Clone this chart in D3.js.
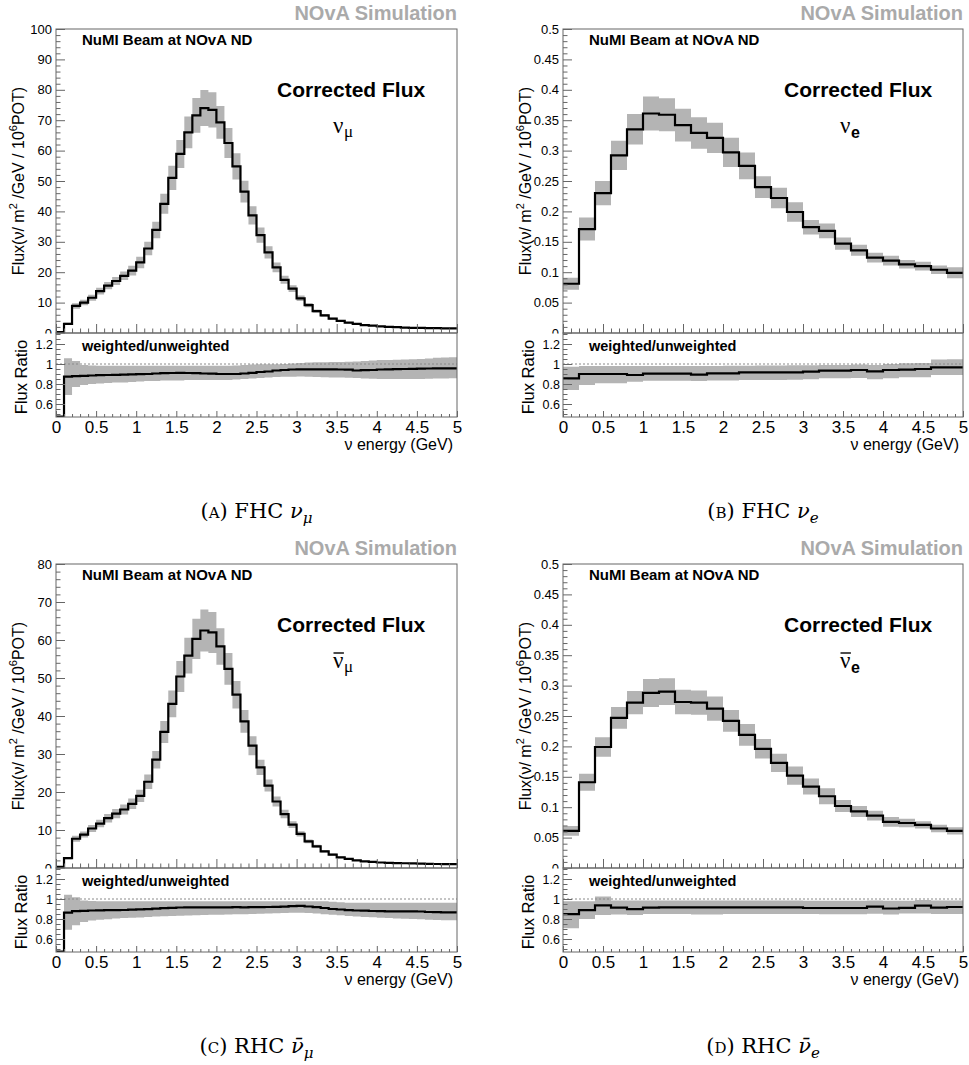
<!DOCTYPE html>
<html>
<head>
<meta charset="utf-8">
<script src="https://cdn.jsdelivr.net/npm/d3@7"></script>
<style>
  body { margin: 0; background: #fff; }
  svg { display: block; font-family: "Liberation Sans", Arial, Helvetica, sans-serif; }
</style>
</head>
<body>
<svg id="chart" width="969" height="1065"></svg>
<script>
// ---- data (flux per 0.1 / 0.2 GeV bin, 0..5 GeV) ----
const energyTicks = [0, 0.5, 1, 1.5, 2, 2.5, 3, 3.5, 4, 4.5, 5];
const ratioTicks = [0.6, 0.8, 1, 1.2];
const numuTicks = [0, 10, 20, 30, 40, 50, 60, 70, 80, 90, 100];
const numubarTicks = [0, 10, 20, 30, 40, 50, 60, 70, 80];
const nueTicks = [0, 0.05, 0.1, 0.15, 0.2, 0.25, 0.3, 0.35, 0.4, 0.45, 0.5];

// (a) FHC numu, 50 bins of 0.1 GeV
const fhcNumuFlux = [0.3, 3.0, 8.9, 10.0, 11.6, 13.8, 15.6, 17.1, 18.8, 20.5,
  23.2, 27.8, 33.9, 42.5, 51.0, 58.9, 66.0, 71.6, 74.0, 73.4,
  69.3, 62.5, 54.8, 46.5, 38.7, 32.2, 26.5, 21.6, 17.5, 14.6,
  11.4, 9.2, 7.2, 5.8, 4.7, 4.0, 3.4, 3.0, 2.6, 2.4,
  2.2, 2.0, 1.9, 1.8, 1.7, 1.7, 1.6, 1.6, 1.5, 1.5];
const fhcNumuErr = [0.05, 0.4, 0.9, 0.9, 1.0, 1.1, 1.2, 1.3, 1.4, 1.6,
  1.9, 2.2, 2.7, 3.3, 4.0, 4.6, 5.2, 5.7, 5.9, 5.8,
  5.4, 4.9, 4.3, 3.6, 3.0, 2.5, 2.0, 1.6, 1.3, 1.1,
  0.9, 0.7, 0.55, 0.45, 0.35, 0.3, 0.25, 0.22, 0.2, 0.18,
  0.17, 0.15, 0.15, 0.14, 0.13, 0.13, 0.12, 0.12, 0.12, 0.12];
const fhcNumuRatio = [0.45, 0.873, 0.878, 0.882, 0.885, 0.888, 0.89, 0.892, 0.894, 0.896,
  0.898, 0.9, 0.905, 0.908, 0.91, 0.912, 0.91, 0.908, 0.905, 0.903,
  0.9, 0.9, 0.9, 0.905, 0.912, 0.92, 0.925, 0.935, 0.94, 0.945,
  0.947, 0.947, 0.947, 0.946, 0.946, 0.945, 0.944, 0.935, 0.938, 0.94,
  0.945, 0.947, 0.948, 0.95, 0.952, 0.953, 0.955, 0.956, 0.957, 0.957];
const fhcNumuRatioLo = [0.45, 0.69, 0.77, 0.79, 0.8, 0.805, 0.81, 0.815, 0.815, 0.82,
  0.825, 0.83, 0.83, 0.835, 0.835, 0.835, 0.84, 0.84, 0.84, 0.84,
  0.84, 0.84, 0.845, 0.85, 0.855, 0.86, 0.865, 0.87, 0.872, 0.873,
  0.874, 0.873, 0.87, 0.868, 0.866, 0.864, 0.862, 0.86, 0.855, 0.852,
  0.85, 0.85, 0.85, 0.85, 0.85, 0.85, 0.852, 0.855, 0.856, 0.857];
const fhcNumuRatioHi = [0.45, 1.057, 1.03, 0.99, 0.985, 0.983, 0.983, 0.983, 0.983, 0.983,
  0.983, 0.983, 0.983, 0.983, 0.983, 0.983, 0.983, 0.983, 0.983, 0.983,
  0.983, 0.983, 0.985, 0.99, 0.995, 0.997, 0.997, 0.998, 1.0, 1.005,
  1.01, 1.015, 1.017, 1.018, 1.02, 1.02, 1.022, 1.025, 1.03, 1.035,
  1.04, 1.04, 1.042, 1.045, 1.047, 1.05, 1.055, 1.062, 1.065, 1.067];

// (b) FHC nue, 25 bins of 0.2 GeV
const fhcNueFlux = [0.081, 0.171, 0.23, 0.292, 0.335, 0.361, 0.359, 0.342, 0.329, 0.321,
  0.297, 0.275, 0.24, 0.222, 0.199, 0.174, 0.168, 0.147, 0.136, 0.124,
  0.119, 0.113, 0.11, 0.104, 0.099];
const fhcNueErr = [0.01, 0.019, 0.02, 0.024, 0.025, 0.028, 0.027, 0.027, 0.026, 0.025,
  0.024, 0.022, 0.018, 0.017, 0.016, 0.012, 0.012, 0.01, 0.009, 0.008,
  0.008, 0.007, 0.007, 0.007, 0.009];
const fhcNueRatio = [0.857, 0.9, 0.9, 0.9, 0.89, 0.903, 0.903, 0.903, 0.893, 0.907,
  0.907, 0.917, 0.917, 0.917, 0.917, 0.923, 0.933, 0.933, 0.94, 0.927,
  0.94, 0.943, 0.95, 0.967, 0.967];
const fhcNueRatioLo = [0.74, 0.79, 0.807, 0.807, 0.823, 0.833, 0.833, 0.833, 0.83, 0.835,
  0.835, 0.84, 0.84, 0.84, 0.843, 0.847, 0.857, 0.857, 0.86, 0.848,
  0.858, 0.867, 0.867, 0.89, 0.89];
const fhcNueRatioHi = [0.973, 0.98, 0.98, 0.98, 0.98, 0.98, 0.98, 0.98, 0.98, 0.98,
  0.982, 0.983, 0.985, 0.985, 0.987, 0.988, 0.99, 0.99, 0.995, 0.99,
  1.0, 1.007, 1.01, 1.045, 1.047];

// (c) RHC numubar, 50 bins of 0.1 GeV
const rhcNumubarFlux = [0.3, 2.6, 7.7, 8.8, 10.4, 11.7, 13.1, 14.3, 15.4, 16.9,
  19.0, 22.7, 28.5, 35.8, 43.2, 50.4, 55.9, 60.3, 62.5, 62.0,
  58.3, 52.4, 45.6, 38.6, 32.2, 26.5, 21.7, 17.5, 14.2, 11.4,
  9.0, 7.0, 5.7, 4.4, 3.5, 2.8, 2.4, 2.0, 1.75, 1.6,
  1.45, 1.35, 1.3, 1.25, 1.2, 1.15, 1.1, 1.05, 1.0, 1.0];
const rhcNumubarErr = [0.05, 0.3, 0.8, 0.8, 0.9, 1.0, 1.1, 1.2, 1.3, 1.4,
  1.6, 1.9, 2.3, 2.9, 3.5, 4.1, 4.7, 5.3, 5.5, 5.4,
  4.8, 4.2, 3.6, 3.0, 2.5, 2.0, 1.6, 1.3, 1.1, 0.9,
  0.7, 0.5, 0.4, 0.35, 0.3, 0.22, 0.2, 0.16, 0.14, 0.13,
  0.1, 0.1, 0.1, 0.1, 0.1, 0.1, 0.1, 0.1, 0.1, 0.1];
const rhcNumubarRatio = [0.45, 0.863, 0.878, 0.882, 0.885, 0.887, 0.888, 0.889, 0.89, 0.893,
  0.897, 0.899, 0.903, 0.908, 0.912, 0.915, 0.917, 0.917, 0.916, 0.917,
  0.917, 0.917, 0.918, 0.917, 0.918, 0.919, 0.92, 0.922, 0.923, 0.928,
  0.932, 0.925, 0.918, 0.91, 0.9, 0.895, 0.888, 0.885, 0.883, 0.88,
  0.878, 0.877, 0.877, 0.876, 0.877, 0.875, 0.87, 0.868, 0.867, 0.867];
const rhcNumubarRatioLo = [0.45, 0.693, 0.737, 0.77, 0.785, 0.793, 0.797, 0.805, 0.81, 0.812,
  0.815, 0.82, 0.825, 0.827, 0.83, 0.832, 0.835, 0.838, 0.84, 0.843,
  0.843, 0.845, 0.847, 0.848, 0.85, 0.852, 0.855, 0.858, 0.86, 0.862,
  0.863, 0.86, 0.855, 0.848, 0.842, 0.837, 0.83, 0.825, 0.82, 0.817,
  0.813, 0.81, 0.805, 0.802, 0.8, 0.797, 0.793, 0.79, 0.788, 0.787];
const rhcNumubarRatioHi = [0.45, 1.043, 1.017, 0.985, 0.98, 0.977, 0.977, 0.977, 0.977, 0.977,
  0.977, 0.977, 0.977, 0.977, 0.977, 0.977, 0.977, 0.977, 0.977, 0.977,
  0.977, 0.977, 0.977, 0.977, 0.977, 0.977, 0.977, 0.977, 0.977, 0.977,
  0.977, 0.977, 0.977, 0.977, 0.972, 0.968, 0.963, 0.963, 0.963, 0.963,
  0.963, 0.963, 0.963, 0.963, 0.963, 0.963, 0.963, 0.963, 0.963, 0.963];

// (d) RHC nuebar, 25 bins of 0.2 GeV
const rhcNuebarFlux = [0.061, 0.141, 0.199, 0.247, 0.272, 0.288, 0.29, 0.273, 0.272, 0.262,
  0.242, 0.219, 0.196, 0.173, 0.152, 0.134, 0.118, 0.102, 0.093, 0.086,
  0.076, 0.074, 0.071, 0.065, 0.061];
const rhcNuebarErr = [0.008, 0.014, 0.016, 0.018, 0.019, 0.023, 0.022, 0.02, 0.02, 0.02,
  0.018, 0.018, 0.016, 0.015, 0.015, 0.013, 0.013, 0.01, 0.009, 0.008,
  0.008, 0.007, 0.006, 0.006, 0.006];
const rhcNuebarRatio = [0.848, 0.889, 0.937, 0.914, 0.898, 0.914, 0.917, 0.917, 0.917, 0.917,
  0.917, 0.917, 0.917, 0.917, 0.917, 0.91, 0.91, 0.91, 0.91, 0.924,
  0.905, 0.912, 0.933, 0.913, 0.92];
const rhcNuebarRatioLo = [0.708, 0.8, 0.84, 0.845, 0.84, 0.85, 0.85, 0.85, 0.845, 0.845,
  0.85, 0.85, 0.85, 0.85, 0.85, 0.85, 0.848, 0.848, 0.848, 0.852,
  0.845, 0.855, 0.855, 0.85, 0.85];
const rhcNuebarRatioHi = [0.978, 0.978, 1.025, 0.985, 0.985, 0.985, 0.985, 0.985, 0.985, 0.985,
  0.985, 0.985, 0.985, 0.985, 0.985, 0.983, 0.983, 0.983, 0.983, 0.985,
  0.983, 0.983, 0.99, 0.985, 0.985];

// ---- layout ----
const svg = d3.select('#chart');
const bandColor = '#b4b4b4';
const frameColor = '#666';
const ratioDomain = [0.47, 1.31];
const serif = '"Liberation Serif", "Times New Roman", serif';

const panels = [
  { id: 'a', left: 56, right: 457, top: 29, mainBottom: 333, ratioBottom: 417, padX0: 0, padX1: 484,
    flux: fhcNumuFlux, err: fhcNumuErr, ratio: fhcNumuRatio, lo: fhcNumuRatioLo, hi: fhcNumuRatioHi,
    binWidth: 0.1, yTicks: numuTicks, yMinor: 2, beam: 'FHC', bar: false, flavour: 'μ' },
  { id: 'b', left: 563, right: 963, top: 29, mainBottom: 333, ratioBottom: 417, padX0: 484, padX1: 969,
    flux: fhcNueFlux, err: fhcNueErr, ratio: fhcNueRatio, lo: fhcNueRatioLo, hi: fhcNueRatioHi,
    binWidth: 0.2, yTicks: nueTicks, yMinor: 0.01, beam: 'FHC', bar: false, flavour: 'e' },
  { id: 'c', left: 56, right: 457, top: 564, mainBottom: 868, ratioBottom: 952, padX0: 0, padX1: 484,
    flux: rhcNumubarFlux, err: rhcNumubarErr, ratio: rhcNumubarRatio, lo: rhcNumubarRatioLo, hi: rhcNumubarRatioHi,
    binWidth: 0.1, yTicks: numubarTicks, yMinor: 2, beam: 'RHC', bar: true, flavour: 'μ' },
  { id: 'd', left: 563, right: 963, top: 564, mainBottom: 868, ratioBottom: 952, padX0: 484, padX1: 969,
    flux: rhcNuebarFlux, err: rhcNuebarErr, ratio: rhcNuebarRatio, lo: rhcNuebarRatioLo, hi: rhcNuebarRatioHi,
    binWidth: 0.2, yTicks: nueTicks, yMinor: 0.01, beam: 'RHC', bar: true, flavour: 'e' }
];

const fmt = d => String(+d.toFixed(2));

function styleAxis(g, fontSize) {
  g.select('.domain').remove();
  g.selectAll('line').attr('stroke', frameColor);
  g.selectAll('text').attr('fill', '#000').style('font-size', fontSize + 'px')
    .style('font-family', '"Liberation Sans", Arial, sans-serif');
}

function minorValues(domain, step, majors) {
  const out = [];
  for (let v = domain[0]; v <= domain[1] + 1e-9; v += step) {
    const r = Math.round(v / step) * step;
    if (!majors.some(m => Math.abs(m - r) < step / 10)) out.push(r);
  }
  return out;
}

// histogram outline: two points per bin
function stepPoints(values, bw, clampMin) {
  const pts = [];
  values.forEach((v, i) => {
    const yv = clampMin === undefined ? v : Math.max(v, clampMin);
    pts.push([i * bw, yv], [(i + 1) * bw, yv]);
  });
  return pts;
}

// band outline: [x, lo, hi] twice per bin
function bandPoints(lo, hi, bw) {
  const pts = [];
  lo.forEach((l, i) => {
    pts.push([i * bw, l, hi[i]], [(i + 1) * bw, l, hi[i]]);
  });
  return pts;
}

function drawPanel(p) {
  const g = svg.append('g').attr('class', 'panel-' + p.id);
  const yMax = p.yTicks[p.yTicks.length - 1];
  const x = d3.scaleLinear().domain([0, 5]).range([p.left, p.right]);
  const y = d3.scaleLinear().domain([0, yMax]).range([p.mainBottom, p.top]);
  const yr = d3.scaleLinear().domain(ratioDomain).range([p.ratioBottom, p.mainBottom]);
  const w = p.right - p.left;

  // clip paths
  g.append('clipPath').attr('id', 'clip-main-' + p.id)
    .append('rect').attr('x', p.left).attr('y', p.top).attr('width', w).attr('height', p.mainBottom - p.top);
  g.append('clipPath').attr('id', 'clip-ratio-' + p.id)
    .append('rect').attr('x', p.left).attr('y', p.mainBottom).attr('width', w).attr('height', p.ratioBottom - p.mainBottom);
  g.append('clipPath').attr('id', 'clip-mainpad-' + p.id)
    .append('rect').attr('x', p.padX0).attr('y', p.top - 12).attr('width', p.padX1 - p.padX0)
    .attr('height', p.mainBottom - p.top + 12.5);

  // ---------- main pad ----------
  const main = g.append('g').attr('clip-path', `url(#clip-main-${p.id})`);
  const bandMain = d3.area().x(d => x(d[0])).y0(d => y(d[1])).y1(d => y(d[2]));
  main.append('path')
    .attr('d', bandMain(bandPoints(p.flux.map((v, i) => v - p.err[i]), p.flux.map((v, i) => v + p.err[i]), p.binWidth)))
    .attr('fill', bandColor);

  const lineMain = d3.line().x(d => x(d[0])).y(d => y(d[1]));
  main.append('path')
    .attr('d', lineMain(stepPoints(p.flux, p.binWidth)))
    .attr('fill', 'none').attr('stroke', '#000').attr('stroke-width', 2.2);

  // main axes (labels cut off at the pad edge like the ratio pad does)
  const axesMain = g.append('g').attr('clip-path', `url(#clip-mainpad-${p.id})`);
  const yAx = axesMain.append('g').attr('transform', `translate(${p.left},0)`)
    .call(d3.axisLeft(y).tickValues(p.yTicks).tickSizeInner(-9).tickSizeOuter(0).tickPadding(4).tickFormat(fmt));
  styleAxis(yAx, 13);
  const yAxMin = axesMain.append('g').attr('transform', `translate(${p.left},0)`)
    .call(d3.axisLeft(y).tickValues(minorValues([0, yMax], p.yMinor, p.yTicks)).tickSize(-4.5).tickFormat(''));
  styleAxis(yAxMin, 13);
  const xAx = axesMain.append('g').attr('transform', `translate(0,${p.mainBottom})`)
    .call(d3.axisBottom(x).tickValues(energyTicks).tickSize(-9).tickFormat(''));
  styleAxis(xAx, 13);
  const xAxMin = axesMain.append('g').attr('transform', `translate(0,${p.mainBottom})`)
    .call(d3.axisBottom(x).tickValues(minorValues([0, 5], 0.1, energyTicks)).tickSize(-4.5).tickFormat(''));
  styleAxis(xAxMin, 13);

  g.append('rect').attr('x', p.left).attr('y', p.top).attr('width', w).attr('height', p.mainBottom - p.top)
    .attr('fill', 'none').attr('stroke', frameColor).attr('stroke-width', 1);

  // main texts
  g.append('text').attr('x', p.right).attr('y', p.top - 9).attr('text-anchor', 'end')
    .attr('font-weight', 'bold').attr('font-size', 20).attr('fill', '#aaaaaa').text('NOvA Simulation');
  g.append('text').attr('x', p.left + 26).attr('y', p.top + 16)
    .attr('font-weight', 'bold').attr('font-size', 15).text('NuMI Beam at NOvA ND');
  g.append('text').attr('x', p.left + 221).attr('y', p.top + 68)
    .attr('font-weight', 'bold').attr('font-size', 21).text('Corrected Flux');

  // neutrino symbol, with an overline for antineutrinos
  const nuX = p.left + 277;
  const nuY = p.top + 104;
  const nu = g.append('text').attr('x', nuX).attr('y', nuY)
    .style('font-family', serif).attr('font-size', 23).text('ν');
  const nuW = nu.node().getComputedTextLength();
  if (p.bar) {
    g.append('line').attr('x1', nuX + 0.5).attr('x2', nuX + nuW + 0.5)
      .attr('y1', nuY - 15).attr('y2', nuY - 15)
      .attr('stroke', '#000').attr('stroke-width', 1.4);
  }
  if (p.flavour === 'e') {
    g.append('text').attr('x', nuX + nuW + 0.5).attr('y', nuY + 5)
      .attr('font-size', 16).attr('font-weight', 'bold').text('e');
  } else {
    g.append('text').attr('x', nuX + nuW + 0.5).attr('y', nuY + 4)
      .attr('font-size', 17).style('font-family', serif).text('μ');
  }

  const yTitle = g.append('text')
    .attr('transform', `translate(${p.left - 32},${(p.top + p.mainBottom) / 2}) rotate(-90)`)
    .attr('text-anchor', 'middle').attr('font-size', 16);
  yTitle.append('tspan').text('Flux(ν/ m');
  yTitle.append('tspan').attr('dy', -7).attr('font-size', 11).text('2');
  yTitle.append('tspan').attr('dy', 7).text(' /GeV / 10');
  yTitle.append('tspan').attr('dy', -7).attr('font-size', 11).text('6');
  yTitle.append('tspan').attr('dy', 7).text('POT)');

  // ---------- ratio pad ----------
  const rat = g.append('g').attr('clip-path', `url(#clip-ratio-${p.id})`);
  const bandRat = d3.area().x(d => x(d[0])).y0(d => yr(d[1])).y1(d => yr(d[2]));
  rat.append('path')
    .attr('d', bandRat(bandPoints(p.lo, p.hi, p.binWidth)))
    .attr('fill', bandColor);

  rat.append('line')
    .attr('x1', p.left).attr('x2', p.right).attr('y1', yr(1)).attr('y2', yr(1))
    .attr('stroke', '#8a8a8a').attr('stroke-width', 1).attr('stroke-dasharray', '2,2');

  const lineRat = d3.line().x(d => x(d[0])).y(d => yr(d[1]));
  rat.append('path')
    .attr('d', lineRat(stepPoints(p.ratio, p.binWidth, ratioDomain[0] + 0.005)))
    .attr('fill', 'none').attr('stroke', '#000').attr('stroke-width', 2.2);

  const ryAx = g.append('g').attr('transform', `translate(${p.left},0)`)
    .call(d3.axisLeft(yr).tickValues(ratioTicks).tickSizeInner(-9).tickSizeOuter(0).tickPadding(3).tickFormat(fmt));
  styleAxis(ryAx, 12.5);
  const ryAxMin = g.append('g').attr('transform', `translate(${p.left},0)`)
    .call(d3.axisLeft(yr).tickValues(minorValues([0.5, 1.3], 0.05, ratioTicks)).tickSize(-4.5).tickFormat(''));
  styleAxis(ryAxMin, 12.5);
  const rxAx = g.append('g').attr('transform', `translate(0,${p.ratioBottom})`)
    .call(d3.axisBottom(x).tickValues(energyTicks).tickSizeInner(-6).tickSizeOuter(0).tickPadding(4).tickFormat(fmt));
  styleAxis(rxAx, 17);
  const rxAxMin = g.append('g').attr('transform', `translate(0,${p.ratioBottom})`)
    .call(d3.axisBottom(x).tickValues(minorValues([0, 5], 0.1, energyTicks)).tickSize(-3).tickFormat(''));
  styleAxis(rxAxMin, 17);

  g.append('rect').attr('x', p.left).attr('y', p.mainBottom).attr('width', w).attr('height', p.ratioBottom - p.mainBottom)
    .attr('fill', 'none').attr('stroke', frameColor).attr('stroke-width', 1);

  g.append('text').attr('x', p.left + 26).attr('y', p.mainBottom + 18)
    .attr('font-weight', 'bold').attr('font-size', 14.5).text('weighted/unweighted');
  g.append('text')
    .attr('transform', `translate(${p.left - 29},${(p.mainBottom + p.ratioBottom) / 2 + 2}) rotate(-90)`)
    .attr('text-anchor', 'middle').attr('font-size', 16.5).text('Flux Ratio');
  g.append('text').attr('x', p.right - 4).attr('y', p.ratioBottom + 33)
    .attr('text-anchor', 'end').attr('font-size', 16).text('ν energy (GeV)');

  // caption
  const cap = g.append('text').attr('x', (p.left + p.right) / 2).attr('y', p.ratioBottom + 101)
    .attr('text-anchor', 'middle').attr('font-size', 21)
    .style('font-family', '"DejaVu Serif", "Liberation Serif", serif');
  cap.append('tspan').text('(');
  cap.append('tspan').style('font-variant', 'small-caps').text(p.id);
  cap.append('tspan').text(') ' + p.beam + ' ');
  cap.append('tspan').style('font-style', 'italic').text(p.bar ? 'ν\u0304' : 'ν');
  cap.append('tspan').attr('dy', 5).attr('font-size', 15).style('font-style', 'italic').text(p.flavour);
}

panels.forEach(drawPanel);
</script>
</body>
</html>
